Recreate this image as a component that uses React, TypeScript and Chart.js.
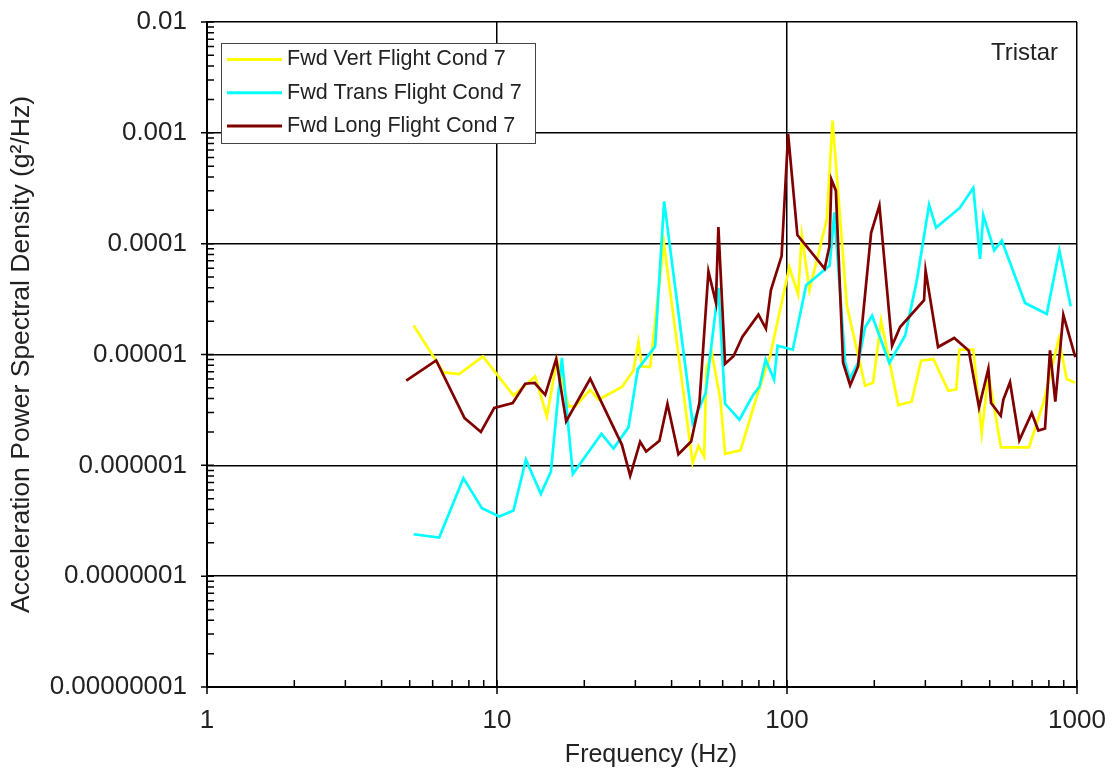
import React, { useEffect, useRef } from "react";
import { Chart, registerables } from "chart.js";

Chart.register(...registerables);

// ---- Data ----
const vertFreq = [5.16, 6.54, 7.41, 8.94, 11.4, 13.54, 14.86, 16.09, 17.64, 18.6, 20.96, 22.38, 26.96, 29.54, 30.74, 31.59, 33.74, 37.61, 47.27, 49.5, 51.8, 52.75, 55.06, 58.93, 61.17, 69.1, 78.7, 87.47, 101.9, 109.2, 112.5, 119.5, 137.2, 143.6, 160.8, 185.9, 198.1, 211.1, 242.1, 268.9, 290, 319.7, 360.1, 383.6, 392.9, 439, 469.4, 494.7, 547, 683.3, 765.6, 865.7, 921.4, 984.3];
const vertPsd = [1.83e-5, 6.89e-6, 6.67e-6, 9.61e-6, 4.27e-6, 6.34e-6, 2.76e-6, 8.97e-6, 3.4e-6, 3.4e-6, 4.81e-6, 3.91e-6, 5.09e-6, 7.18e-6, 1.297e-5, 7.81e-6, 7.71e-6, 1.022e-4, 1.054e-6, 1.5e-6, 1.2e-6, 7.55e-6, 1.031e-5, 3.91e-6, 1.27e-6, 1.366e-6, 4.18e-6, 9.75e-6, 6.14e-5, 3.5e-5, 1.195e-4, 3.82e-5, 1.649e-4, 1.287e-3, 2.76e-5, 5.23e-6, 5.56e-6, 2.02e-5, 3.5e-6, 3.75e-6, 8.79e-6, 9.1e-6, 4.71e-6, 4.84e-6, 1.105e-5, 1.105e-5, 1.954e-6, 6.71e-6, 1.455e-6, 1.455e-6, 3.65e-6, 1.389e-5, 6.0e-6, 5.56e-6];

const transFreq = [5.16, 6.32, 7.66, 8.87, 10.18, 11.4, 12.58, 14.17, 15.34, 16.74, 18.26, 22.92, 25.21, 28.4, 30.6, 35.1, 37.7, 47.27, 52.41, 58.0, 61.17, 68.55, 76.11, 80.34, 84.39, 90.27, 92.81, 104.7, 116.4, 140.3, 145.6, 158.6, 164.4, 176.2, 185.9, 196.6, 225.3, 255.4, 280.3, 309.0, 326.6, 394.2, 439.0, 463.1, 475.4, 518.3, 550.1, 662.0, 786.5, 869.0, 951.2];
const transPsd = [2.39e-7, 2.23e-7, 7.66e-7, 4.11e-7, 3.45e-7, 3.91e-7, 1.122e-6, 5.53e-7, 8.79e-7, 9.3e-6, 8.33e-7, 1.926e-6, 1.419e-6, 2.2e-6, 7.39e-6, 1.183e-5, 2.41e-4, 2.41e-6, 4.49e-6, 3.99e-5, 3.59e-6, 2.58e-6, 4.24e-6, 5.12e-6, 8.97e-6, 5.92e-6, 1.2e-5, 1.105e-5, 4.21e-5, 6.34e-5, 1.915e-4, 8.61e-6, 6.04e-6, 8.52e-6, 1.764e-5, 2.24e-5, 8.38e-6, 1.478e-5, 4.64e-5, 2.25e-4, 1.396e-4, 2.1e-4, 3.19e-4, 7.3e-5, 1.804e-4, 8.71e-5, 1.066e-4, 2.92e-5, 2.32e-5, 8.71e-5, 2.72e-5];

const longFreq = [4.864, 6.17, 7.73, 8.8, 9.78, 11.33, 12.51, 13.49, 14.66, 16.0, 17.32, 20.96, 26.96, 28.79, 31.16, 32.68, 36.32, 38.7, 42.23, 46.71, 49.89, 53.59, 56.85, 58.0, 61.17, 65.36, 70.21, 79.7, 84.58, 88.0, 95.8, 100.9, 108.6, 134.8, 140.0, 142.3, 147.4, 156.1, 165.1, 175.8, 195.0, 208.3, 230.3, 245.5, 296.9, 300.5, 331.8, 377.3, 423.6, 459.4, 494.7, 505.4, 545.8, 557.2, 587.6, 632.6, 698.1, 735.6, 775.7, 807.2, 841.8, 897.1, 986.6];
const longPsd = [5.8e-6, 8.84e-6, 2.67e-6, 2.0e-6, 3.29e-6, 3.65e-6, 5.45e-6, 5.53e-6, 4.33e-6, 9.1e-6, 2.5e-6, 6.04e-6, 1.532e-6, 8.04e-7, 1.631e-6, 1.333e-6, 1.665e-6, 3.59e-6, 1.257e-6, 1.641e-6, 3.67e-6, 5.63e-5, 2.95e-5, 1.411e-4, 8.25e-6, 9.65e-6, 1.448e-5, 2.29e-5, 1.71e-5, 3.81e-5, 7.72e-5, 9.76e-4, 1.195e-4, 5.95e-5, 9.41e-5, 3.79e-4, 3.01e-4, 8.43e-6, 5.28e-6, 7.81e-6, 1.251e-4, 2.21e-4, 1.2e-5, 1.771e-5, 3.09e-5, 5.73e-5, 1.168e-5, 1.409e-5, 1.082e-5, 3.33e-6, 7.44e-6, 3.65e-6, 2.8e-6, 3.91e-6, 5.62e-6, 1.683e-6, 2.96e-6, 2.06e-6, 2.15e-6, 1.089e-5, 3.75e-6, 2.28e-5, 9.45e-6];

const seriesLabels = ["Fwd Vert Flight Cond 7", "Fwd Trans Flight Cond 7", "Fwd Long Flight Cond 7"];
const seriesColors = ["#FFFF00", "#00FFFF", "#800000"];

const xTickValues = [1, 10, 100, 1000];
const yTickValues = [1e-8, 1e-7, 1e-6, 1e-5, 1e-4, 1e-3, 1e-2];
const xTitle = "Frequency (Hz)";
const yTitle = "Acceleration Power Spectral Density (g²/Hz)";
const annotationText = "Tristar";

const FONT = "'Liberation Sans', Arial, Helvetica, sans-serif";
const TEXT_COLOR = "#222";

function toPoints(xs: number[], ys: number[]) {
  return xs.map((x, i) => ({ x, y: ys[i] }));
}

function formatY(v: number) {
  const e = Math.round(Math.log10(v));
  return e >= 0 ? String(v) : v.toFixed(-e);
}

const decorPlugin = {
  id: "decor",
  afterDraw(chart: any) {
    const { ctx, chartArea: a, scales } = chart;
    const xs = scales.x;
    const ys = scales.y;
    ctx.save();
    // minor / major tick marks
    ctx.strokeStyle = "#000";
    ctx.lineWidth = 1.5;
    ctx.beginPath();
    for (let e = 0; e <= 3; e++) {
      for (let k = 1; k <= 9; k++) {
        const v = k * Math.pow(10, e);
        if (v > 1000) continue;
        const px = xs.getPixelForValue(v);
        ctx.moveTo(px, a.bottom - 7);
        ctx.lineTo(px, k === 1 ? a.bottom + 7 : a.bottom);
      }
    }
    for (let e = -8; e <= -2; e++) {
      for (let k = 1; k <= 9; k++) {
        const v = k * Math.pow(10, e);
        if (v > 0.0100001) continue;
        const py = ys.getPixelForValue(v);
        ctx.moveTo(k === 1 ? a.left - 6 : a.left, py);
        ctx.lineTo(a.left + 7, py);
      }
    }
    ctx.stroke();

    // legend box
    const bx = 221, by = 43, bw = 314, bh = 100;
    ctx.fillStyle = "#fff";
    ctx.fillRect(bx, by, bw, bh);
    ctx.strokeStyle = "#444";
    ctx.lineWidth = 1;
    ctx.strokeRect(bx + 0.5, by + 0.5, bw, bh);
    ctx.font = `21.5px ${FONT}`;
    ctx.textBaseline = "middle";
    ctx.textAlign = "left";
    chart.data.datasets.forEach((ds: any, i: number) => {
      const yy = 59.5 + i * 33.3;
      ctx.strokeStyle = ds.borderColor;
      ctx.lineWidth = 3;
      ctx.beginPath();
      ctx.moveTo(227, yy);
      ctx.lineTo(282, yy);
      ctx.stroke();
      ctx.fillStyle = TEXT_COLOR;
      ctx.fillText(ds.label, 287, yy);
    });

    // annotation
    ctx.font = `24px ${FONT}`;
    ctx.textAlign = "right";
    ctx.fillStyle = TEXT_COLOR;
    ctx.fillText(annotationText, 1058, 53);

    // x axis title
    ctx.font = `25px ${FONT}`;
    ctx.textAlign = "center";
    ctx.fillText(xTitle, 651, 755);
    ctx.restore();
  },
};

export default function App() {
  const ref = useRef<HTMLCanvasElement | null>(null);

  useEffect(() => {
    if (!ref.current) return;
    const datasets = [
      { label: seriesLabels[0], data: toPoints(vertFreq, vertPsd), borderColor: seriesColors[0], order: 2 },
      { label: seriesLabels[1], data: toPoints(transFreq, transPsd), borderColor: seriesColors[1], order: 1 },
      { label: seriesLabels[2], data: toPoints(longFreq, longPsd), borderColor: seriesColors[2], order: 0 },
    ].map((d) => ({
      ...d,
      backgroundColor: d.borderColor,
      borderWidth: 2.7,
      pointRadius: 0,
      pointHoverRadius: 0,
      tension: 0,
      fill: false,
    }));

    const chart = new Chart(ref.current, {
      type: "line",
      data: { datasets },
      options: {
        animation: false,
        responsive: false,
        devicePixelRatio: 1,
        layout: { padding: { top: 22, right: 37, bottom: 0, left: 0 } },
        plugins: { legend: { display: false }, tooltip: { enabled: false } },
        scales: {
          x: {
            type: "logarithmic",
            min: 1,
            max: 1000,
            afterBuildTicks: (s: any) => {
              s.ticks = xTickValues.map((v) => ({ value: v }));
            },
            afterFit: (s: any) => {
              s.height = 86;
            },
            grid: {
              color: "#000",
              lineWidth: 1.5,
              drawTicks: true,
              tickLength: 15,
              tickColor: "rgba(0,0,0,0)",
            },
            border: { color: "#000", width: 2 },
            ticks: {
              autoSkip: false,
              maxRotation: 0,
              padding: 3,
              color: TEXT_COLOR,
              font: { family: FONT, size: 26 },
              callback: (v: any) => String(v),
            },
            title: { display: false, text: xTitle },
          },
          y: {
            type: "logarithmic",
            min: 1e-8,
            max: 1e-2,
            afterBuildTicks: (s: any) => {
              s.ticks = yTickValues.map((v) => ({ value: v }));
            },
            afterFit: (s: any) => {
              s.width = 207;
            },
            grid: {
              color: "#000",
              lineWidth: 1.5,
              drawTicks: true,
              tickLength: 18,
              tickColor: "rgba(0,0,0,0)",
            },
            border: { color: "#000", width: 2 },
            ticks: {
              autoSkip: false,
              padding: 2,
              color: TEXT_COLOR,
              font: { family: FONT, size: 26 },
              callback: (v: any) => formatY(Number(v)),
            },
            title: {
              display: true,
              text: yTitle,
              color: TEXT_COLOR,
              font: { family: FONT, size: 26.5 },
              padding: { top: 6, bottom: 0 },
            },
          },
        },
      },
      plugins: [decorPlugin],
    } as any);

    return () => chart.destroy();
  }, []);

  return (
    <div style={{ position: "fixed", left: 0, top: 0, width: 1114, height: 773, background: "#fff" }}>
      <canvas ref={ref} width={1114} height={773} style={{ display: "block" }} />
    </div>
  );
}
